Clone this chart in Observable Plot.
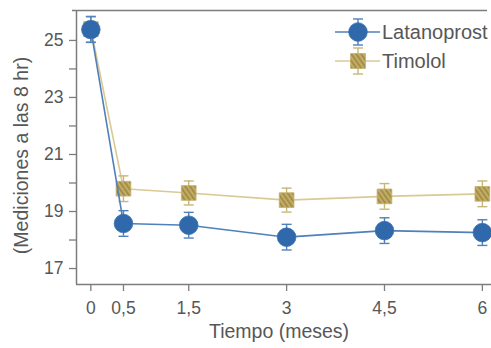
<!DOCTYPE html>
<html>
<head>
<meta charset="utf-8">
<script src="https://cdn.jsdelivr.net/npm/d3@7"></script>
<script src="https://cdn.jsdelivr.net/npm/@observablehq/plot@0.6"></script>
<style>
  html, body { margin: 0; padding: 0; background: #fff; }
  #chart { width: 491px; height: 348px; overflow: hidden; }
  svg { font-family: "Liberation Sans", Arial, Helvetica, sans-serif; }
</style>
</head>
<body>
<div id="chart"></div>
<script>
// ---- data ----
const months = [0, 0.5, 1.5, 3, 4.5, 6];
const latanoprost = [25.38, 18.58, 18.52, 18.1, 18.33, 18.26];
const latanoprostErr = [0.45, 0.45, 0.45, 0.45, 0.45, 0.45];
const timolol = [25.4, 19.8, 19.65, 19.4, 19.53, 19.62];
const timololErr = [0.45, 0.45, 0.42, 0.42, 0.45, 0.45];
const seriesNames = ["Latanoprost", "Timolol"];
const yTickValues = [17, 18, 19, 20, 21, 22, 23, 24, 25];
const yTickLabels = [17, 19, 21, 23, 25];
const xLabel = "Tiempo (meses)";
const yLabel = "(Mediciones a las 8 hr)";

// ---- styles ----
const BLUE = "#2f68ab";
const BLUE_LINE = "#4f80ba";
const TAN_LINE = "#d9ca93";
const TAN_ERR = "#c9b677";
const AXIS = "#7d7d7d";
const TEXT = "#575757";
const xDomain = [-0.22, 6.14];
const yDomain = [16.44, 26.05];

const lat = months.map((m, i) => ({x: m, y: latanoprost[i], e: latanoprostErr[i]}));
const tim = months.map((m, i) => ({x: m, y: timolol[i], e: timololErr[i]}));

const cap = {
  draw(ctx, size) {
    const w = Math.sqrt(size / Math.PI);
    ctx.moveTo(-w, 0); ctx.lineTo(w, 0);
  }
};

const fmt = d => String(d).replace(".", ",");

const plot = Plot.plot({
  width: 491,
  height: 348,
  marginLeft: 76,
  marginRight: 0,
  marginTop: 10,
  marginBottom: 64,
  style: {fontFamily: '"Liberation Sans", Arial, sans-serif', fontSize: "17px", color: TEXT, background: "#fff"},
  x: {domain: xDomain},
  y: {domain: yDomain},
  marks: [
    Plot.axisY({ticks: yTickValues, tickFormat: d => yTickLabels.includes(d) ? d : "", tickSize: 7, tickPadding: 6, stroke: AXIS, strokeWidth: 1.3, fill: TEXT, fontSize: 17.5, label: null}),
    Plot.axisX({ticks: months, tickFormat: fmt, tickSize: 7, tickPadding: 10, stroke: AXIS, strokeWidth: 1.3, fill: TEXT, fontSize: 17.5, label: null}),
    Plot.ruleX([xDomain[0]], {stroke: AXIS, strokeWidth: 1.5}),
    Plot.ruleY([yDomain[0]], {stroke: AXIS, strokeWidth: 1.5}),
    Plot.ruleY([yDomain[1]], {stroke: AXIS, strokeWidth: 1.5, x1: xDomain[0], x2: xDomain[1], dx: -4}),
    // Timolol
    Plot.line(tim, {x: "x", y: "y", stroke: TAN_LINE, strokeWidth: 1.6}),
    Plot.ruleX(tim, {x: "x", y1: d => d.y - d.e, y2: d => d.y + d.e, stroke: TAN_ERR, strokeWidth: 1.4}),
    Plot.dot(tim, {x: "x", y: d => d.y - d.e, symbol: cap, r: 5, stroke: TAN_ERR, strokeWidth: 1.4}),
    Plot.dot(tim, {x: "x", y: d => d.y + d.e, symbol: cap, r: 5, stroke: TAN_ERR, strokeWidth: 1.4}),
    Plot.dot(tim, {x: "x", y: "y", symbol: "square", r: 8.3, fill: "url(#hatch)", stroke: "#c4b06a", strokeWidth: 0.8}),
    // Latanoprost
    Plot.line(lat, {x: "x", y: "y", stroke: BLUE_LINE, strokeWidth: 1.6}),
    Plot.ruleX(lat, {x: "x", y1: d => d.y - d.e, y2: d => d.y + d.e, stroke: BLUE_LINE, strokeWidth: 1.4}),
    Plot.dot(lat, {x: "x", y: d => d.y - d.e, symbol: cap, r: 5, stroke: BLUE_LINE, strokeWidth: 1.4}),
    Plot.dot(lat, {x: "x", y: d => d.y + d.e, symbol: cap, r: 5, stroke: BLUE_LINE, strokeWidth: 1.4}),
    Plot.dot(lat, {x: "x", y: "y", r: 9.3, fill: BLUE, stroke: "#3a72b3", strokeWidth: 0.8}),
    // axis titles
    Plot.text([xLabel], {frameAnchor: "bottom", text: d => d, textAnchor: "middle", dy: 53, dx: -5, fill: TEXT, fontSize: 19.5}),
    Plot.text([yLabel], {frameAnchor: "left", text: d => d, textAnchor: "middle", rotate: -90, dx: -55, dy: 8, fill: TEXT, fontSize: 19.5})
  ]
});

// hatch pattern for Timolol squares
const svg = d3.select(plot);
const defs = svg.insert("defs", ":first-child");
const pat = defs.append("pattern").attr("id", "hatch").attr("patternUnits", "userSpaceOnUse")
  .attr("width", 4).attr("height", 4).attr("patternTransform", "rotate(-35)");
pat.append("rect").attr("width", 4).attr("height", 4).attr("fill", "#c3ad63");
pat.append("rect").attr("width", 1.6).attr("height", 4).attr("fill", "#9c8747");

// legend (inside plot, top right)
const lg = svg.append("g").attr("class", "legend").attr("text-anchor", "start");
const items = [
  {name: seriesNames[0], cy: 32, line: BLUE_LINE, err: BLUE_LINE, type: "circle"},
  {name: seriesNames[1], cy: 61, line: TAN_LINE, err: TAN_ERR, type: "square"}
];
items.forEach(it => {
  const cx = 358;
  lg.append("line").attr("x1", 335).attr("x2", 380).attr("y1", it.cy).attr("y2", it.cy)
    .attr("stroke", it.line).attr("stroke-width", 1.6);
  lg.append("line").attr("x1", cx).attr("x2", cx).attr("y1", it.cy - 13).attr("y2", it.cy + 13)
    .attr("stroke", it.err).attr("stroke-width", 1.4);
  [-13, 13].forEach(o => lg.append("line").attr("x1", cx - 5).attr("x2", cx + 5)
    .attr("y1", it.cy + o).attr("y2", it.cy + o).attr("stroke", it.err).attr("stroke-width", 1.4));
  if (it.type === "circle") {
    lg.append("circle").attr("cx", cx).attr("cy", it.cy).attr("r", 9.3).attr("fill", BLUE).attr("stroke", "#3a72b3").attr("stroke-width", 0.8);
  } else {
    lg.append("rect").attr("x", cx - 7.4).attr("y", it.cy - 7.4).attr("width", 14.8).attr("height", 14.8)
      .attr("fill", "url(#hatch)").attr("stroke", "#c4b06a").attr("stroke-width", 0.8);
  }
  lg.append("text").attr("x", 382).attr("y", it.cy).attr("dy", "0.36em").attr("text-anchor", "start")
    .attr("fill", TEXT).attr("font-size", 20).text(it.name);
});

document.getElementById("chart").appendChild(plot);
</script>
</body>
</html>
